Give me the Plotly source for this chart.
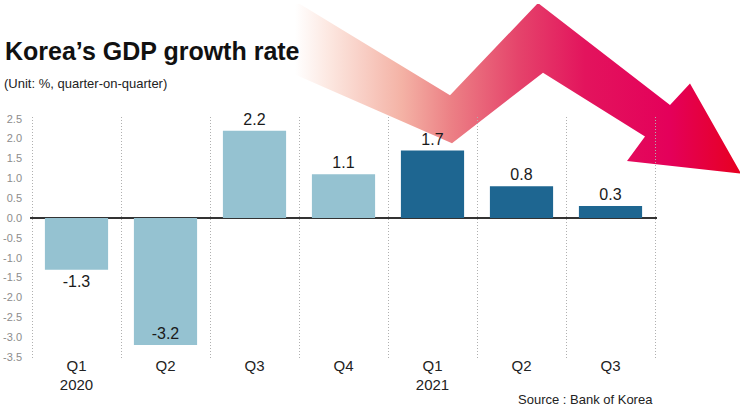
import plotly.graph_objects as go

# ---- data ----
quarters = ["Q1", "Q2", "Q3", "Q4", "Q1", "Q2", "Q3"]
years = ["2020", "", "", "", "2021", "", ""]
growth = [-1.3, -3.2, 2.2, 1.1, 1.7, 0.8, 0.3]
y_ticks = [-3.5, -3.0, -2.5, -2.0, -1.5, -1.0, -0.5, 0.0, 0.5, 1.0, 1.5, 2.0, 2.5]

# ---- decoration: trend arrow outline (pixel space of the 740x412 page) ----
arrow_x = [295, 450, 538, 670, 690, 741, 627, 645, 543, 452, 295]
arrow_y = [-3, 93, -1, 103, 81, 173, 160, 135, 70, 142, 72]

W, H = 740, 412
FONT = "Liberation Sans, Arial, Helvetica, sans-serif"

LIGHT = "#95c2d1"
DARK = "#1e6691"

bar_colors = [LIGHT if i < 4 else DARK for i in range(len(growth))]
xpos = list(range(len(growth)))
ticktext = [q + ("<br>" + y if y else "") for q, y in zip(quarters, years)]
labels = [f"{v:.1f}" for v in growth]
textpos = ["inside" if v < -3 else "outside" for v in growth]

fig = go.Figure()

# arrow on full-page axes (drawn first, below bars)
fig.add_trace(go.Scatter(
    x=arrow_x, y=arrow_y, xaxis="x", yaxis="y",
    mode="lines", fill="toself",
    line=dict(width=0, color="rgba(0,0,0,0)"),
    fillgradient=dict(
        type="horizontal", start=295, stop=741,
        colorscale=[
            [0.0, "#ffffff"],
            [0.08, "#fce6df"],
            [0.24, "#f4b2a5"],
            [0.35, "#ec8085"],
            [0.50, "#e5446b"],
            [0.65, "#e3145d"],
            [0.84, "#e4005a"],
            [1.0, "#e70020"],
        ],
    ),
    hoverinfo="skip", showlegend=False,
))

fig.add_trace(go.Bar(
    x=xpos, y=growth, xaxis="x2", yaxis="y2",
    width=0.71,
    marker=dict(color=bar_colors, line=dict(width=0)),
    text=labels, textposition=textpos, insidetextanchor="end",
    textangle=0,
    textfont=dict(family=FONT, size=16, color="#1a1a1a"),
    insidetextfont=dict(family=FONT, size=16, color="#1a1a1a"),
    outsidetextfont=dict(family=FONT, size=16, color="#1a1a1a"),
    cliponaxis=False,
    showlegend=False, hoverinfo="skip",
))

# plot-area pixel geometry
px_per_cat = 89.0
x_min, x_max = -0.52, 6.52
x_left_px = 32 + (x_min + 0.5) * px_per_cat
x_right_px = 655 + (x_max - 6.5) * px_per_cat
y_top_px, y_bot_px = 115, 362

fig.update_layout(
    width=W, height=H, autosize=False,
    margin=dict(l=0, r=0, t=0, b=0, pad=0),
    paper_bgcolor="white", plot_bgcolor="rgba(0,0,0,0)",
    xaxis=dict(domain=[0, 1], range=[0, W], visible=False, fixedrange=True),
    yaxis=dict(domain=[0, 1], range=[H, 0], visible=False, fixedrange=True),
    xaxis2=dict(
        domain=[x_left_px / W, x_right_px / W], anchor="y2",
        range=[x_min, x_max], fixedrange=True,
        tickmode="array", tickvals=xpos, ticktext=ticktext,
        ticks="", showgrid=False, zeroline=False, showline=False,
        tickfont=dict(family=FONT, size=15, color="#222222"),
        ticklabelstandoff=-4,
        minor=dict(tickmode="array", tickvals=[i - 0.5 for i in range(len(growth) + 1)],
                   showgrid=True, gridcolor="#b0b0b0", gridwidth=1,
                   griddash="1px,2px", ticks=""),
    ),
    yaxis2=dict(
        domain=[(H - y_bot_px) / H, (H - y_top_px) / H], anchor="x2",
        range=[-3.55, 2.55], fixedrange=True,
        tickmode="array", tickvals=y_ticks, ticktext=[f"{v:.1f}" for v in y_ticks],
        ticks="outside", ticklen=5, tickcolor="rgba(0,0,0,0)",
        showgrid=False, showline=False,
        zeroline=True, zerolinecolor="#333333", zerolinewidth=1.5,
        tickfont=dict(family=FONT, size=11, color="#8c8c8c"),
    ),
    annotations=[
        dict(text="<b>Korea’s GDP growth rate</b>", xref="paper", yref="paper",
             x=3 / W, y=1 - 48 / H, xanchor="left", yanchor="middle", showarrow=False,
             font=dict(family=FONT, size=25, color="#111111")),
        dict(text="(Unit: %, quarter-on-quarter)", xref="paper", yref="paper",
             x=2 / W, y=1 - 81 / H, xanchor="left", yanchor="middle", showarrow=False,
             font=dict(family=FONT, size=13, color="#222222")),
        dict(text="Source : Bank of Korea", xref="paper", yref="paper",
             x=655 / W, y=1 - 403 / H, xanchor="right", yanchor="middle", showarrow=False,
             font=dict(family=FONT, size=13, color="#222222")),
    ],
)

fig.write_html("out.html", config={"displayModeBar": False},
               post_script="document.body.style.margin='0';")
